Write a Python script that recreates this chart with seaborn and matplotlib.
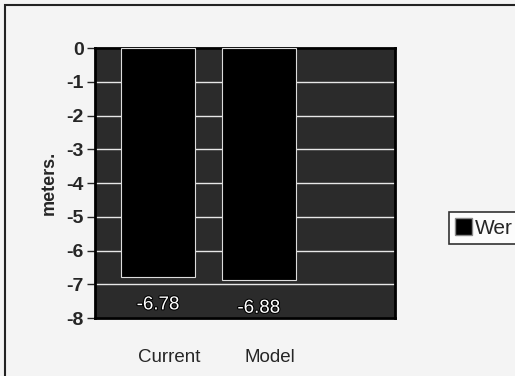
import matplotlib
matplotlib.use('Agg')
import matplotlib.pyplot as plt
import matplotlib.patheffects as pe
import matplotlib.transforms as mtransforms
from matplotlib.patches import Rectangle, Patch
import seaborn as sns

# dados
categorias = ['Current', 'Model']
valores = [-6.78, -6.88]
rotulos_valor = ['-6.78', '-6.88']
serie = 'Wer'
ticks_y = [0, -1, -2, -3, -4, -5, -6, -7, -8]

sns.set_style('white')
plt.rcParams['font.family'] = ['Liberation Sans', 'DejaVu Sans']

fig = plt.figure(figsize=(5.15, 3.76), dpi=100)
fig.patch.set_facecolor('#f4f4f4')
ax = fig.add_axes([0.184, 0.154, 0.583, 0.718])
ax.set_facecolor('#2b2b2b')

sns.barplot(x=categorias, y=valores, color='black', width=0.73,
            edgecolor='#dddddd', linewidth=0.8, ax=ax, zorder=3)

ax.set_ylim(-8, 0)
ax.set_xlim(-0.63, 2.35)
ax.set_yticks(ticks_y)
ax.set_yticklabels([str(t) for t in ticks_y], fontsize=14, fontweight='bold')
ax.yaxis.grid(True, color='#e8e8e8', linewidth=1.0, zorder=1)
ax.set_axisbelow(True)
ax.tick_params(axis='y', length=6, width=1, direction='out', left=True, pad=2)
ax.tick_params(axis='x', length=0, pad=22, labelsize=13.5)
# rótulos do eixo x um pouco deslocados para a direita, como no original
desloc = mtransforms.ScaledTranslation(8 / 72, 0, fig.dpi_scale_trans)
for lbl in ax.get_xticklabels():
    lbl.set_transform(lbl.get_transform() + desloc)
ax.set_ylabel('meters.', fontsize=13, fontweight='bold', labelpad=6)
ax.set_xlabel('')

for s in ax.spines.values():
    s.set_color('black')
    s.set_linewidth(2)

# rótulos de valor abaixo das barras
txts = ax.bar_label(ax.containers[0], labels=rotulos_valor, padding=14,
                    color='white', fontsize=13.5)
for t in txts:
    t.set_path_effects([pe.withStroke(linewidth=1.5, foreground='black')])

# legenda
leg = fig.legend(handles=[Patch(facecolor='black', edgecolor='#888888', label=serie)],
                 loc='center left', bbox_to_anchor=(0.872, 0.394),
                 fontsize=15, frameon=True, fancybox=False,
                 handlelength=0.8, handleheight=0.9, handletextpad=0.15,
                 borderpad=0.3, borderaxespad=0)
leg.get_frame().set_edgecolor('black')
leg.get_frame().set_linewidth(1.2)
leg.get_frame().set_facecolor('white')

# borda externa do gráfico
fig.patches.append(Rectangle((0.01, -0.1), 1.2, 1.087, transform=fig.transFigure,
                             fill=False, edgecolor='#222222', linewidth=1.5))

fig.savefig('out.png', dpi=100, facecolor=fig.get_facecolor())
